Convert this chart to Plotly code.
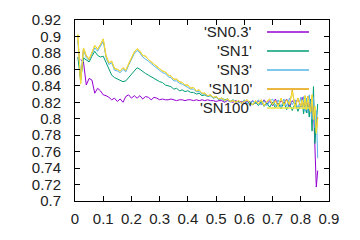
import plotly.graph_objects as go

x = [0.01, 0.02, 0.03, 0.04, 0.05, 0.06, 0.07, 0.08, 0.09, 0.10,
     0.11, 0.12, 0.13, 0.14, 0.15, 0.16, 0.17, 0.18, 0.19, 0.20,
     0.21, 0.22, 0.23, 0.24, 0.25, 0.26, 0.27, 0.28, 0.29, 0.30,
     0.31, 0.32, 0.33, 0.34, 0.35, 0.36, 0.37, 0.38, 0.39, 0.40,
     0.41, 0.42, 0.43, 0.44, 0.45, 0.46, 0.47, 0.48, 0.49, 0.50,
     0.51, 0.52, 0.53, 0.54, 0.55, 0.56, 0.57, 0.58, 0.59, 0.60,
     0.61, 0.62, 0.63, 0.64, 0.65, 0.66, 0.67, 0.68, 0.69, 0.70,
     0.71, 0.72, 0.73, 0.74, 0.75, 0.76, 0.77, 0.78, 0.79, 0.80,
     0.805, 0.81, 0.815, 0.82, 0.825, 0.83, 0.835, 0.84, 0.845, 0.85,
     0.855, 0.86, 0.865]

sn03 = [None, 0.872, 0.869, 0.841, 0.849, 0.847, 0.831, 0.837, 0.834, 0.829,
        0.828, 0.826, 0.823, 0.825, 0.821, 0.824, 0.820, 0.827, 0.829, 0.825,
        0.828, 0.825, 0.828, 0.824, 0.827, 0.826, 0.823, 0.826, 0.825, 0.823,
        0.824, 0.823, 0.823, 0.824, 0.823, 0.822, 0.823, 0.823, 0.822, 0.823,
        0.823, 0.822, 0.823, 0.822, 0.823, 0.822, 0.823, 0.822, 0.822, 0.821,
        0.822, 0.822, 0.820, 0.822, 0.821, 0.820, 0.822, 0.820, 0.821, 0.819,
        0.821, 0.819, 0.822, 0.818, 0.822, 0.817, 0.823, 0.818, 0.822, 0.816,
        0.824, 0.816, 0.822, 0.818, 0.824, 0.815, 0.822, 0.817, 0.825, 0.814,
        0.826, 0.813, 0.825, 0.815, 0.827, 0.811, 0.824, 0.807, 0.816, 0.760,
        0.717, 0.737, None]

sn1 = [0.875, 0.847, 0.874, 0.871, 0.869, 0.876, 0.882, 0.877, 0.875, 0.876,
       0.869, 0.860, 0.853, 0.850, 0.848, 0.846, 0.845, 0.846, 0.850, 0.855,
       0.858, 0.862, 0.860, 0.857, 0.855, 0.853, 0.851, 0.848, 0.847, 0.845,
       0.844, 0.841, 0.840, 0.839, 0.836, 0.837, 0.834, 0.835, 0.833, 0.834,
       0.832, 0.832, 0.830, 0.831, 0.828, 0.829, 0.827, 0.828, 0.825, 0.827,
       0.824, 0.825, 0.823, 0.824, 0.821, 0.823, 0.820, 0.821, 0.819, 0.822,
       0.818, 0.821, 0.817, 0.820, 0.816, 0.821, 0.815, 0.819, 0.814, 0.820,
       0.813, 0.819, 0.812, 0.820, 0.811, 0.818, 0.810, 0.819, 0.809, 0.817,
       0.821, 0.806, 0.823, 0.807, 0.819, 0.802, 0.823, 0.785, 0.839, 0.770,
       0.800, 0.818, None]

sn3 = [0.895, 0.850, 0.884, 0.874, 0.871, 0.878, 0.886, 0.882, 0.888, 0.894,
       0.874, 0.866, 0.868, 0.859, 0.858, 0.856, 0.860, 0.857, 0.865, 0.872,
       0.879, 0.883, 0.880, 0.875, 0.873, 0.870, 0.867, 0.864, 0.862, 0.859,
       0.856, 0.855, 0.851, 0.850, 0.846, 0.846, 0.843, 0.842, 0.840, 0.839,
       0.836, 0.836, 0.833, 0.833, 0.830, 0.830, 0.827, 0.828, 0.825, 0.826,
       0.823, 0.824, 0.821, 0.823, 0.820, 0.823, 0.819, 0.822, 0.818, 0.823,
       0.819, 0.817, 0.822, 0.818, 0.823, 0.817, 0.822, 0.816, 0.821, 0.824,
       0.816, 0.823, 0.814, 0.824, 0.815, 0.825, 0.817, 0.823, 0.812, 0.826,
       0.814, 0.827, 0.809, 0.825, 0.807, 0.829, 0.811, 0.799, 0.826, 0.789,
       0.810, 0.752, None]

sn10 = [0.902, 0.843, 0.886, 0.877, 0.872, 0.880, 0.889, 0.885, 0.890, 0.897,
        0.877, 0.868, 0.870, 0.861, 0.860, 0.858, 0.862, 0.859, 0.867, 0.875,
        0.881, 0.885, 0.882, 0.877, 0.876, 0.872, 0.869, 0.866, 0.864, 0.861,
        0.858, 0.857, 0.853, 0.852, 0.848, 0.848, 0.845, 0.844, 0.841, 0.841,
        0.837, 0.838, 0.834, 0.835, 0.831, 0.831, 0.828, 0.829, 0.826, 0.827,
        0.824, 0.825, 0.822, 0.824, 0.821, 0.822, 0.820, 0.822, 0.819, 0.821,
        0.823, 0.819, 0.817, 0.822, 0.818, 0.823, 0.816, 0.821, 0.824, 0.817,
        0.822, 0.815, 0.825, 0.816, 0.823, 0.817, 0.835, 0.814, 0.825, 0.815,
        0.823, 0.812, 0.828, 0.811, 0.827, 0.814, 0.808, 0.829, 0.799, 0.815,
        0.784, 0.802, None]

sn100 = [0.903, 0.842, 0.886, 0.876, 0.872, 0.880, 0.889, 0.884, 0.890, 0.897,
         0.876, 0.868, 0.870, 0.861, 0.860, 0.858, 0.862, 0.859, 0.867, 0.875,
         0.881, 0.885, 0.882, 0.877, 0.876, 0.872, 0.869, 0.866, 0.864, 0.861,
         0.858, 0.857, 0.853, 0.852, 0.848, 0.848, 0.845, 0.844, 0.841, 0.841,
         0.837, 0.838, 0.834, 0.835, 0.831, 0.831, 0.828, 0.829, 0.826, 0.827,
         0.824, 0.825, 0.822, 0.824, 0.821, 0.822, 0.820, 0.822, 0.819, 0.821,
         0.823, 0.819, 0.817, 0.822, 0.818, 0.823, 0.816, 0.821, 0.824, 0.817,
         0.822, 0.815, 0.825, 0.816, 0.823, 0.817, 0.833, 0.814, 0.825, 0.815,
         0.823, 0.812, 0.828, 0.811, 0.827, 0.814, 0.808, 0.829, 0.799, 0.815,
         0.782, 0.800, None]

labels = ["'SN0.3'", "'SN1'", "'SN3'", "'SN10'", "'SN100'"]
series = [sn03, sn1, sn3, sn10, sn100]
colors = ["#9400D3", "#009E73", "#56B4E9", "#E69F00", "#F0E442"]

x_ticks = [0, 0.1, 0.2, 0.3, 0.4, 0.5, 0.6, 0.7, 0.8, 0.9]
y_ticks = [0.7, 0.72, 0.74, 0.76, 0.78, 0.8, 0.82, 0.84, 0.86, 0.88, 0.9, 0.92]

fig = go.Figure()
for name, ys, c in zip(labels, series, colors):
    fig.add_trace(go.Scatter(x=x, y=ys, mode="lines", name=name,
                             line=dict(color=c, width=1), showlegend=False,
                             connectgaps=False))

# gnuplot-style key: right-aligned text, then a line sample
key_y = [0.934, 0.829, 0.724, 0.619, 0.514]
for name, c, ky in zip(labels, colors, key_y):
    fig.add_annotation(x=0.703, y=ky, xref="paper", yref="paper", text=name,
                       showarrow=False, xanchor="right", yanchor="middle",
                       font=dict(size=15, color="#222222", family="Liberation Sans"))
    fig.add_shape(type="line", xref="paper", yref="paper",
                  x0=0.756, x1=0.921, y0=ky, y1=ky,
                  line=dict(color=c, width=1.5))

axis_common = dict(showline=True, linecolor="black", linewidth=1, mirror="allticks",
                   ticks="inside", ticklen=5, tickcolor="black", showgrid=False,
                   zeroline=False, automargin=False,
                   tickfont=dict(size=15, color="#222222", family="Liberation Sans"))

fig.update_xaxes(range=[0, 0.9], tickvals=x_ticks,
                 ticktext=[("%g" % v) for v in x_ticks],
                 ticklabelstandoff=4, **axis_common)
fig.update_yaxes(range=[0.7, 0.92], tickvals=y_ticks,
                 ticktext=[("%g" % v) for v in y_ticks],
                 ticklabelstandoff=10, **axis_common)

fig.update_layout(width=360, height=240,
                  margin=dict(l=75, r=31, t=20, b=39),
                  paper_bgcolor="white", plot_bgcolor="white",
                  showlegend=False)

fig.write_html("out.html")
